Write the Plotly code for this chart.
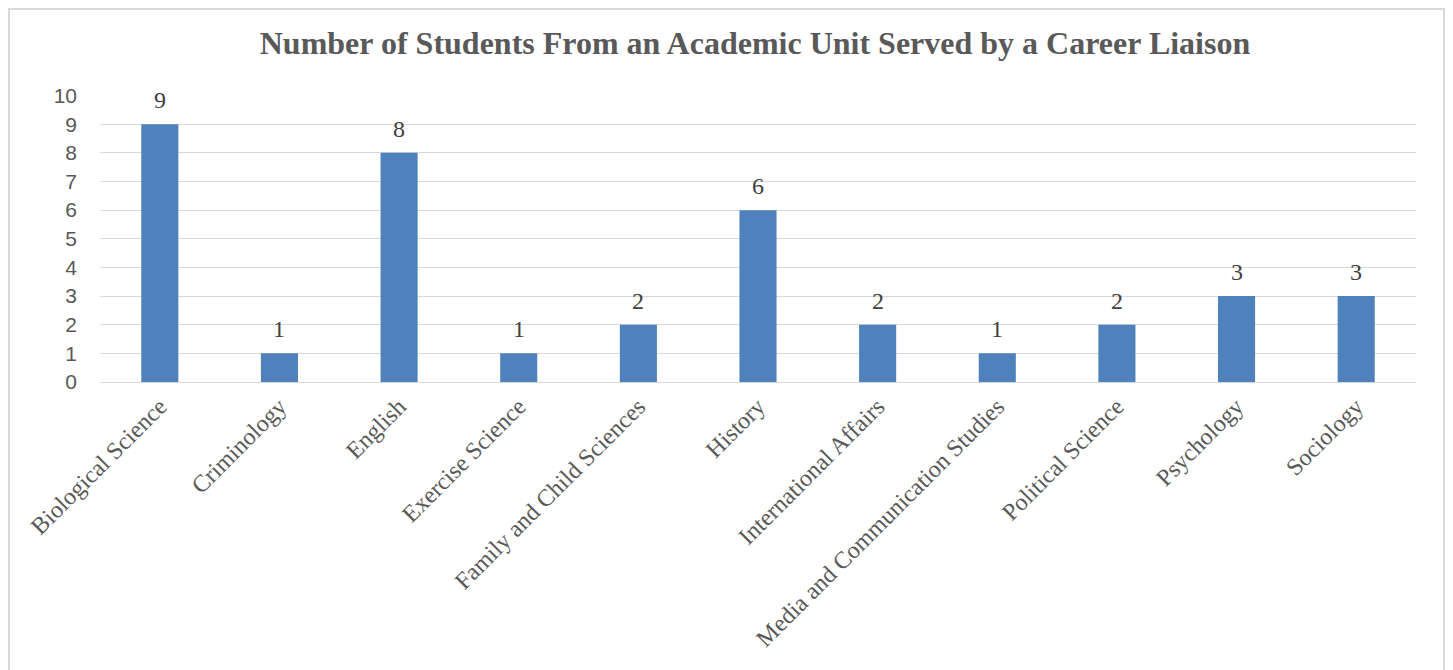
import plotly.graph_objects as go

categories = ["Biological Science", "Criminology", "English", "Exercise Science",
              "Family and Child Sciences", "History", "International Affairs",
              "Media and Communication Studies", "Political Science", "Psychology", "Sociology"]
students = [9, 1, 8, 1, 2, 6, 2, 1, 2, 3, 3]
y_ticks = list(range(0, 11))

W, H = 1453, 670
L, R, T, B = 92, 45, 87, 296
pw, ph = W - L - R, H - T - B

fig = go.Figure(go.Bar(
    x=categories, y=students,
    marker=dict(color="#4F81BD", line=dict(color="#4F81BD", width=0)),
    width=0.31,
))

for c, v in zip(categories, students):
    fig.add_annotation(x=c, y=v, text=str(v), showarrow=False, yanchor="middle", yshift=24,
                       font=dict(family="Liberation Serif", size=24, color="#404040"))

fig.update_layout(
    width=W, height=H,
    margin=dict(l=L, r=R, t=T, b=B),
    paper_bgcolor="white", plot_bgcolor="white",
    title=dict(text="<b>Number of Students From an Academic Unit Served by a Career Liaison</b>",
               x=(747 - L) / pw, xref="paper", xanchor="center",
               y=1 - 35 / H, yanchor="middle",
               font=dict(family="Liberation Serif", size=32, color="#595959")),
    showlegend=False,
)
fig.update_xaxes(tickangle=-45, showgrid=False, showline=True, linecolor="#D9D9D9", linewidth=1,
                 ticks="", tickfont=dict(family="Liberation Serif", size=24, color="#595959"))
fig.update_yaxes(range=[0, 10.02], tickvals=y_ticks, showgrid=True, gridcolor="#D9D9D9", gridwidth=1,
                 zeroline=False, showline=False, ticks="", ticklabelstandoff=22,
                 tickfont=dict(family="Liberation Sans", size=21, color="#595959"))

fig.add_shape(type="rect", xref="paper", yref="paper",
              x0=(1 - L) / pw, x1=(1436 - L) / pw,
              y0=-1.5, y1=(H - B - 1) / ph,
              line=dict(color="#D9D9D9", width=2), fillcolor="rgba(0,0,0,0)", layer="below")

fig.write_html("out.html")
